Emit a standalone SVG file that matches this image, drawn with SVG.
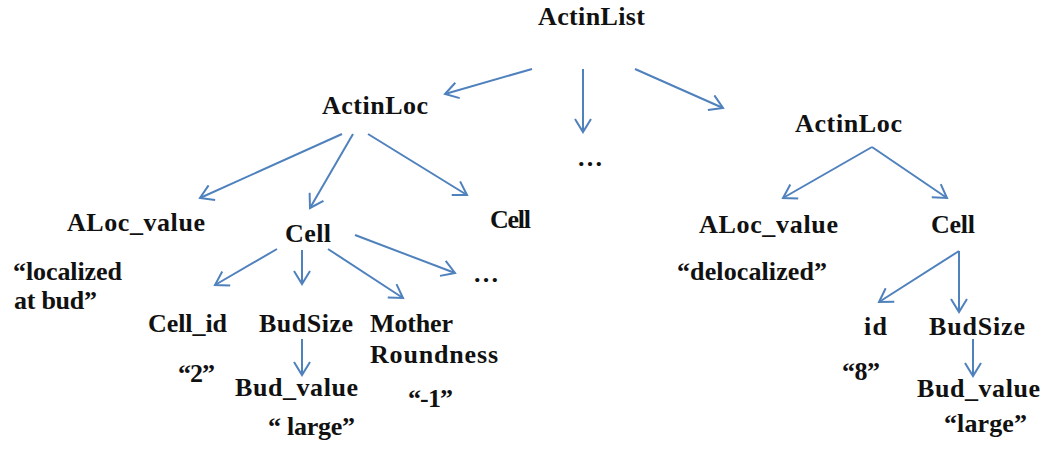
<svg xmlns="http://www.w3.org/2000/svg" width="1044" height="452" viewBox="0 0 1044 452">
<style>
text{font-family:'Liberation Serif','Times New Roman',serif;font-weight:bold;font-size:26px;fill:#111}
.c line{stroke:#4F81BD;stroke-width:2;marker-end:url(#ah)}
</style>
<defs>
<marker id="ah" markerUnits="userSpaceOnUse" viewBox="0 0 16 18" markerWidth="16" markerHeight="18" refX="14" refY="9" orient="auto">
<path d="M1,1 L14,9 L1,17" fill="none" stroke="#4F81BD" stroke-width="2"/>
</marker>
</defs>
<rect width="1044" height="452" fill="#fff"/>
<g class="c" id="connectors">
<line x1="532" y1="69" x2="445" y2="94"/>
<line x1="583" y1="69" x2="583" y2="132"/>
<line x1="635" y1="69" x2="723" y2="108"/>
<line x1="342" y1="134" x2="200" y2="198"/>
<line x1="353" y1="134" x2="310" y2="208"/>
<line x1="368" y1="134" x2="467" y2="195"/>
<line x1="277" y1="249" x2="215" y2="285"/>
<line x1="302" y1="250" x2="302" y2="284"/>
<line x1="328" y1="249" x2="403" y2="298"/>
<line x1="355" y1="235" x2="455" y2="273"/>
<line x1="302" y1="339" x2="302" y2="375"/>
<line x1="872" y1="147" x2="783" y2="198"/>
<line x1="872" y1="147" x2="947" y2="198"/>
<line x1="959" y1="251" x2="879" y2="302"/>
<line x1="959" y1="251" x2="959" y2="312"/>
<line x1="973" y1="339" x2="973" y2="376"/>
</g>
<g id="actinlist"><text x="538" y="25" textLength="107">ActinList</text></g>
<g id="actinloc1"><text x="322" y="114" textLength="106">ActinLoc</text></g>
<g id="dots-mid"><text x="577" y="166">…</text></g>
<g id="actinloc2"><text x="795" y="132" textLength="107">ActinLoc</text></g>
<g id="aloc1"><text x="67" y="231" textLength="138">ALoc_value</text></g>
<g id="cell1"><text x="285" y="242" textLength="46">Cell</text></g>
<g id="cell2"><text x="490" y="228" textLength="41">Cell</text></g>
<g id="val-localized"><text x="13" y="280" textLength="109">“localized</text><text x="14" y="309" textLength="83">at bud”</text></g>
<g id="dots-cell"><text x="473" y="282">…</text></g>
<g id="cellid"><text x="148" y="332" textLength="79">Cell_id</text></g>
<g id="budsize1"><text x="259" y="332" textLength="94">BudSize</text></g>
<g id="mother"><text x="370" y="332" textLength="83">Mother</text><text x="370" y="363" textLength="128">Roundness</text></g>
<g id="val-2"><text x="178" y="382" textLength="37">“2”</text></g>
<g id="budvalue1"><text x="235" y="396" textLength="123">Bud_value</text></g>
<g id="val-m1"><text x="408" y="407" textLength="45">“-1”</text></g>
<g id="val-large1"><text x="268" y="435" textLength="87">“ large”</text></g>
<g id="aloc2"><text x="699" y="233" textLength="139">ALoc_value</text></g>
<g id="cell3"><text x="931" y="233" textLength="44">Cell</text></g>
<g id="val-deloc"><text x="677" y="280" textLength="150">“delocalized”</text></g>
<g id="id2"><text x="864" y="335" textLength="23">id</text></g>
<g id="budsize2"><text x="929" y="335" textLength="96">BudSize</text></g>
<g id="val-8"><text x="842" y="380" textLength="38">“8”</text></g>
<g id="budvalue2"><text x="917" y="397" textLength="123">Bud_value</text></g>
<g id="val-large2"><text x="944" y="432" textLength="83">“large”</text></g>
</svg>
